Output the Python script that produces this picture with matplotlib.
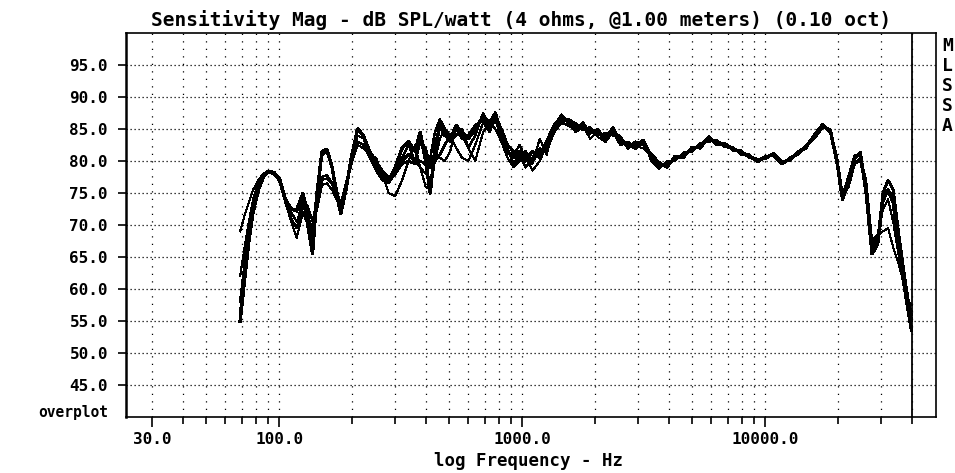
import matplotlib
matplotlib.use('Agg')
import matplotlib.pyplot as plt
from matplotlib.ticker import FixedLocator, FixedFormatter, NullFormatter

# frequency grid (Hz) shared by the five overplotted curves
freq = [69, 72, 75, 78, 82, 86, 90, 95, 100, 106, 112, 118, 125, 131, 137, 143,
        150, 157, 165, 172, 179, 188, 198, 210, 222, 236, 250, 265, 282, 300,
        320, 340, 362, 380, 400, 418, 437, 458, 480, 505, 535, 565, 600, 640,
        690, 735, 775, 820, 870, 920, 975, 1030, 1100, 1180, 1260, 1350, 1450,
        1550, 1660, 1780, 1900, 2040, 2200, 2360, 2530, 2720, 2920, 3150, 3400,
        3650, 3950, 4250, 4600, 5000, 5400, 5850, 6300, 6800, 7350, 7950, 8600,
        9300, 10000, 10800, 11700, 12600, 13600, 14700, 15900, 17200, 18500,
        19700, 20800, 22000, 23300, 24600, 26000, 27500, 29000, 30500, 32000,
        33600, 35300, 37100, 38800, 40000]

spl_a = [55.0, 61.5, 67.5, 72.0, 75.5, 77.5, 78.4, 78.2, 77.3, 74.0, 72.5, 72.2,
         74.5, 70.0, 65.5, 75.0, 81.5, 81.8, 79.0, 75.0, 71.8, 75.5, 80.5, 85.0,
         84.0, 81.0, 79.0, 77.5, 77.0, 79.0, 82.0, 83.0, 81.5, 84.5, 80.0, 75.0,
         82.0, 85.5, 84.0, 83.5, 85.5, 84.5, 83.5, 85.0, 87.0, 86.0, 87.5, 84.0,
         81.5, 80.5, 81.5, 80.0, 81.5, 80.5, 83.0, 85.5, 87.0, 86.0, 85.0, 85.5,
         84.5, 84.5, 83.5, 85.0, 83.0, 82.5, 82.5, 83.2, 80.5, 79.3, 79.5, 80.3,
         81.0, 81.8, 82.5, 83.5, 83.0, 82.5, 82.0, 81.3, 80.8, 80.0, 80.6, 81.0,
         79.6, 80.3, 81.2, 82.3, 83.8, 85.4, 84.8, 80.0, 74.0, 77.0, 80.5, 81.3,
         75.0, 65.5, 67.0, 74.0, 75.5, 73.5, 67.0, 61.0, 56.5, 53.5]

spl_b = [56.0, 62.5, 68.0, 72.5, 75.5, 77.5, 78.3, 78.0, 77.0, 74.0, 72.5, 72.5,
         75.0, 72.0, 67.5, 75.5, 81.0, 81.5, 79.0, 75.5, 72.5, 76.0, 80.5, 84.8,
         84.0, 81.5, 80.0, 78.5, 77.5, 78.0, 80.0, 81.0, 80.0, 83.0, 82.0, 79.0,
         80.0, 81.0, 82.5, 84.0, 85.0, 83.5, 84.0, 85.5, 86.5, 85.5, 87.0, 85.0,
         82.5, 81.5, 80.0, 81.5, 80.0, 81.5, 82.0, 85.0, 86.5, 86.5, 85.8, 85.0,
         85.2, 84.0, 84.3, 84.5, 83.8, 82.0, 83.0, 82.5, 81.0, 79.8, 79.0, 80.8,
         80.5, 82.2, 82.0, 83.8, 82.5, 82.8, 81.7, 81.6, 80.5, 80.3, 80.3, 81.2,
         79.9, 80.1, 81.4, 82.0, 84.1, 85.7, 84.5, 80.5, 74.5, 77.5, 80.8, 81.0,
         76.0, 66.5, 67.5, 75.0, 77.0, 75.5, 69.0, 63.0, 58.0, 55.0]

spl_c = [58.0, 64.0, 69.0, 73.0, 76.0, 77.8, 78.4, 78.2, 77.0, 73.5, 71.0, 69.5,
         73.0, 71.5, 69.0, 73.5, 77.5, 77.8, 76.5, 74.5, 73.0, 76.5, 80.0, 83.0,
         82.5, 80.5, 79.5, 78.0, 77.5, 78.0, 79.5, 80.0, 79.5, 80.0, 79.5, 80.5,
         84.5, 86.5, 85.0, 83.0, 84.0, 85.0, 82.0, 84.0, 87.5, 85.0, 86.5, 83.5,
         82.0, 79.5, 81.0, 79.0, 80.5, 82.0, 81.5, 84.5, 86.0, 85.5, 85.0, 86.0,
         84.3, 85.0, 83.5, 85.3, 83.0, 83.0, 82.0, 83.3, 80.0, 78.8, 80.0, 80.0,
         81.3, 81.5, 82.8, 83.0, 83.3, 82.2, 82.2, 81.0, 81.0, 79.8, 80.8, 80.8,
         79.5, 80.5, 81.0, 82.5, 83.5, 85.2, 85.0, 79.5, 74.3, 76.0, 79.5, 80.5,
         76.5, 67.0, 68.0, 73.5, 75.5, 74.5, 68.5, 62.0, 57.5, 56.0]

spl_d = [62.0, 66.5, 70.5, 74.0, 76.5, 78.0, 78.5, 78.3, 77.0, 73.5, 70.5, 68.0,
         72.0, 70.0, 69.5, 72.5, 76.3, 76.5, 75.5, 74.0, 73.5, 76.0, 79.5, 82.5,
         82.0, 81.0, 80.5, 78.0, 75.0, 74.5, 77.0, 80.0, 82.5, 79.0, 76.0, 75.5,
         80.0, 83.5, 85.0, 84.0, 82.0, 80.5, 80.0, 82.5, 86.0, 84.5, 87.5, 85.0,
         81.5, 81.0, 82.5, 80.5, 79.5, 83.5, 81.0, 85.5, 87.3, 86.0, 84.5, 85.5,
         83.5, 84.5, 84.0, 84.0, 83.5, 82.3, 82.3, 82.0, 80.8, 79.5, 79.3, 80.5,
         80.8, 82.0, 82.3, 83.5, 82.8, 82.5, 82.0, 81.3, 80.7, 80.0, 80.5, 81.0,
         79.7, 80.3, 81.2, 82.2, 83.8, 85.5, 84.6, 80.3, 75.0, 77.0, 79.8, 80.3,
         77.0, 67.5, 68.5, 72.5, 74.0, 70.5, 65.5, 61.0, 57.5, 56.5]

spl_e = [69.0, 71.5, 73.5, 75.5, 77.0, 78.0, 78.4, 78.0, 77.2, 74.0, 72.0, 70.5,
         73.5, 73.0, 70.5, 74.0, 77.0, 77.3, 76.5, 74.5, 73.0, 76.5, 80.0, 84.0,
         83.5, 80.5, 78.5, 77.0, 76.5, 78.0, 80.5, 82.5, 80.0, 79.0, 78.0, 79.5,
         81.5, 80.5, 80.0, 81.5, 85.5, 84.0, 82.0, 80.0, 84.5, 86.0, 85.0, 83.0,
         80.5, 79.0, 80.0, 81.0, 78.5, 80.0, 82.5, 84.5, 86.0, 86.5, 85.5, 84.8,
         85.0, 83.8, 83.0, 84.5, 82.5, 82.8, 81.8, 83.0, 80.3, 79.0, 79.8, 80.0,
         81.2, 81.5, 82.7, 83.2, 83.0, 82.3, 81.8, 81.5, 80.9, 80.2, 80.5, 81.1,
         79.8, 80.2, 81.1, 82.4, 83.6, 85.3, 84.9, 79.8, 74.5, 76.5, 79.5, 80.0,
         75.5, 66.0, 68.5, 69.0, 69.5, 66.5, 64.0, 61.0, 58.0, 57.5]

curves = [spl_e, spl_d, spl_c, spl_b, spl_a]
line_widths = [0.75, 0.8, 1.0, 1.3, 1.7]

y_ticks = [45, 50, 55, 60, 65, 70, 75, 80, 85, 90, 95]
x_major = [30, 100, 1000, 10000]
x_major_labels = ['30.0', '100.0', '1000.0', '10000.0']
x_minor = [40, 50, 60, 70, 80, 90, 200, 300, 400, 500, 600, 700, 800, 900,
           2000, 3000, 4000, 5000, 6000, 7000, 8000, 9000, 20000, 30000, 40000]
legend_tags = ['M', 'L', 'S', 'S', 'A']

title = 'Sensitivity Mag - dB SPL/watt (4 ohms, @1.00 meters) (0.10 oct)'


def main():
    plt.rcParams['font.family'] = ['DejaVu Sans Mono']
    plt.rcParams['font.weight'] = 'bold'
    W, H = 955, 473
    fig = plt.figure(figsize=(W / 100, H / 100), dpi=100)
    ax = fig.add_axes([126 / W, 1 - 417 / H, 810 / W, 384 / H])

    for vals, lw in zip(curves, line_widths):
        ax.plot(freq, vals, color='black', lw=lw, antialiased=False, zorder=3)

    ax.set_xscale('log')
    ax.set_xlim(23.4, 50400)
    ax.set_ylim(40, 100)

    ax.xaxis.set_major_locator(FixedLocator(x_major))
    ax.xaxis.set_major_formatter(FixedFormatter(x_major_labels))
    ax.xaxis.set_minor_locator(FixedLocator(x_minor))
    ax.xaxis.set_minor_formatter(NullFormatter())
    ax.set_yticks(y_ticks)
    ax.set_yticklabels(['%.1f' % v for v in y_ticks])

    ax.tick_params(axis='x', which='major', length=7, width=1.2, pad=4,
                   labelsize=11.5, direction='out')
    ax.tick_params(axis='x', which='minor', length=5, width=1.2, direction='out')
    ax.tick_params(axis='y', length=6, width=1.2, pad=7, labelsize=11.5,
                   direction='out')

    # dotted grid
    ax.grid(axis='x', which='both', color='black', lw=0.9, linestyle=(0, (1, 5)))
    ax.grid(axis='y', which='major', color='black', lw=0.9, linestyle=(0, (1, 2.2)))
    ax.set_axisbelow(True)

    for s in ax.spines.values():
        s.set_linewidth(1.2)
    ax.spines['left'].set_linewidth(1.8)

    ax.axvline(40000, color='black', lw=1.3, zorder=4)

    fig.text(521 / W, 1 - 20 / H, title, ha='center', va='center', fontsize=14)
    fig.text(529 / W, 1 - 461 / H, 'log Frequency - Hz', ha='center',
             va='center', fontsize=12.5)
    fig.text(108 / W, 1 - 412 / H, 'overplot', ha='right', va='center', fontsize=10.5)

    for i, tag in enumerate(legend_tags):
        fig.text(942 / W, 1 - (46 + 20 * i) / H, tag, ha='left', va='center',
                 fontsize=13)

    fig.savefig('out.png', dpi=100)


if __name__ == '__main__':
    main()
